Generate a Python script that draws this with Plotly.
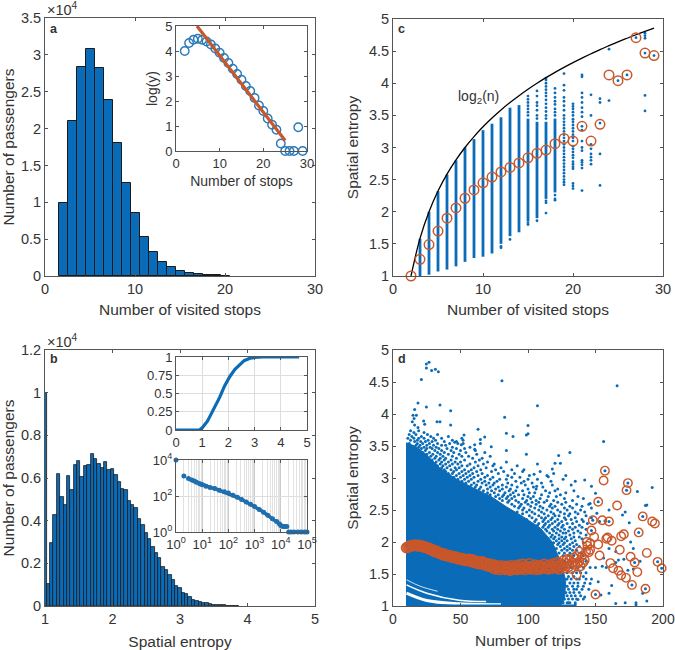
import plotly.graph_objects as go

W, H = 675, 650
BLUE = "#0a6cb8"
ORANGE = "#c9572a"
INK = "#333333"
FONT = "Liberation Sans"

# panel a
stops_heights = [0.99, 2.1, 2.84, 3.08, 2.82, 2.39, 1.8, 1.26, 0.85, 0.53, 0.33, 0.195, 0.12, 0.07,
                 0.04, 0.025, 0.012, 0.007, 0.004]
inset_a_x = list(range(2, 30))
inset_a_y = [4.0, 4.32, 4.45, 4.49, 4.45, 4.38, 4.26, 4.1, 3.93, 3.72, 3.52, 3.29, 3.08, 2.85,
             2.6, 2.4, 2.12, 1.82, 1.6, 1.3, 1.05, 0.85, 0.3, 0, 0, 0, 0.95, 0]
fit_x = [4.8, 25]
fit_y = [5, 0.42]

# panel b
entropy_heights = [1.0, 0.103, 0.294, 0.428, 0.62, 0.51, 0.473, 0.61, 0.544, 0.66, 0.68, 0.605,
                   0.656, 0.66, 0.713, 0.688, 0.666, 0.645, 0.677, 0.638, 0.64, 0.614, 0.583,
                   0.548, 0.544, 0.492, 0.473, 0.459, 0.408, 0.38, 0.34, 0.314, 0.277, 0.25,
                   0.224, 0.183, 0.168, 0.145, 0.122, 0.094, 0.085, 0.06, 0.058, 0.042, 0.03,
                   0.025, 0.019, 0.015, 0.012, 0.009, 0.007, 0.005, 0.004, 0.003, 0.002, 0.0015,
                   0.001, 0.0008]
cdf_x = [0, 0.9, 1.0, 1.1, 1.2, 1.3, 1.4, 1.5, 1.67, 1.85, 2.05, 2.25, 2.43, 2.6, 2.8, 3.0, 3.3, 3.7, 4.7]
cdf_y = [0, 0, 0.03, 0.07, 0.12, 0.19, 0.26, 0.33, 0.45, 0.6, 0.73, 0.83, 0.9, 0.95, 0.98, 0.995, 1, 1, 1]
# None marks the gaps in the rank curve
rank_x = [1, None, 2, None, 3, 4, 5, 6, 8, 10, 14, 20, 30, 45, 70, 100, 150, 220, 320, 480, 700, 1000, 1500, 2200,
          3200, 4800, 7000, 9000, 10000, 12000, 14000, 17000, None, 20000, 25000, 32000, 45000, 60000, 80000, 100000]
rank_y = [10000, None, 1300, None, 930, 780, 680, 580, 480, 420, 350, 300, 260, 210, 170, 145, 110, 85, 64, 47, 35,
          26, 18, 12.5, 8.5, 5.5, 3.8, 2.8, 2.3, 2, 2, 2, None, 1, 1, 1, 1, 1, 1, 1]

# panel c
n_values = list(range(2, 30))
log2_curve = [1, 1.585, 2, 2.322, 2.585, 2.807, 3, 3.17, 3.322, 3.459, 3.585, 3.7, 3.807, 3.907, 4,
              4.087, 4.17, 4.248, 4.322, 4.392, 4.459, 4.524, 4.585, 4.644, 4.7, 4.755, 4.807, 4.858]
mean_entropy = [1, 1.26, 1.49, 1.7, 1.9, 2.06, 2.21, 2.34, 2.45, 2.54, 2.62, 2.69, 2.76, 2.84, 2.91,
                2.96, 3.06, 3.14, 3.1, 3.33, 3.1, 3.36, 4.13, 4.04, 4.13, 4.71, 4.47, 4.43]
column_n = [3, 4, 5, 6, 7, 8, 9, 10, 11, 12, 13, 14, 15, 16, 17, 18]
column_low = [1.0, 1.02, 1.07, 1.1, 1.15, 1.22, 1.28, 1.3, 1.35, 1.5, 1.62, 1.68, 1.85, 1.9, 2.2, 2.3]
column_high = [1.58, 2.0, 2.32, 2.58, 2.8, 3.0, 3.13, 3.27, 3.37, 3.47, 3.62, 3.66, 3.45, 3.4, 3.4, 3.45]
sparse_c = {
    12: [1.44, 1.46],
    13: [1.57],
    15: [1.8, 1.83, 3.5, 3.55, 3.6, 3.65, 3.7, 3.75, 3.8],
    16: [1.86, 3.45, 3.5, 3.58, 3.65, 3.7, 3.8, 3.88],
    17: [1.98, 2.14, 2.17, 3.45, 3.5, 3.56, 3.62, 3.68, 3.74, 3.8, 3.85, 3.9, 3.95, 4.0, 4.05, 4.08],
    18: [2.18, 2.2, 2.26, 3.5, 3.55, 3.6, 3.67, 3.72, 3.78, 3.85, 3.92],
    19: [2.42, 2.46, 2.5, 2.55, 2.6, 2.65, 2.7, 2.75, 2.8, 2.85, 2.9, 2.95, 3.0, 3.05, 3.1, 3.15, 3.2, 3.25,
         3.3, 3.35, 3.4, 3.45, 3.5, 3.58, 3.65, 3.72, 3.78, 3.89, 3.97, 4.15],
    20: [2.36, 2.4, 2.44, 2.67, 2.7, 2.74, 2.78, 2.84, 2.88, 2.93, 2.98, 3.02, 3.1, 3.15, 3.2, 3.25, 3.3, 3.35,
         3.4, 3.44, 3.5, 3.55, 3.6, 3.64, 3.68],
    21: [2.33, 2.68, 2.73, 2.77, 2.8, 2.95, 3.0, 3.1, 3.27, 3.33, 3.48, 3.55, 3.62, 3.7, 3.78, 3.85, 4.1, 4.13],
    22: [2.74, 2.8, 2.85, 2.9, 2.98, 3.05, 3.5, 3.82],
    23: [2.41, 2.9, 3.38, 3.7, 3.76],
    24: [3.73, 4.53],
    25: [4.04],
    26: [4.13],
    27: [4.71],
    28: [3.57, 3.81, 4.47, 4.7, 4.74, 4.78],
    29: [4.43],
}

# panel d: solid part of the cloud, its white gaps, then the points that stand apart
cloud_x = [10, 10, 16, 24, 35, 47, 59, 72, 84, 96, 109, 118, 124, 128, 127, 124, 10]
cloud_y = [1.0, 3.55, 3.5, 3.38, 3.15, 2.98, 2.85, 2.72, 2.55, 2.4, 2.22, 2.0, 1.7, 1.4, 1.1, 1.0, 1.0]
gap_1_x = [10, 20, 33]
gap_1_y = [1.41, 1.31, 1.23]
gap_2_x = [10, 25, 49, 69]
gap_2_y = [1.33, 1.2, 1.09, 1.07]
gap_3_x = [10, 25, 49, 80]
gap_3_y = [1.2, 1.085, 1.035, 1.02]
d_dots = [
    (24.7, 4.78), (26.7, 4.81), (24.7, 4.72), (28.6, 4.68), (31.4, 4.7), (33.6, 4.66), (21, 4.54), (80.7, 4.52),
    (166, 4.44), (18.5, 4.17), (24.7, 4.11), (34.8, 4.14), (42.7, 4.05), (16, 4.07), (14.8, 3.98), (17.3, 3.98),
    (15.6, 3.93), (14.3, 3.88), (82.7, 3.95), (22.7, 3.89), (23.5, 3.84), (32.6, 3.88), (34.8, 3.88), (42.7, 3.83),
    (16, 3.83), (18.5, 3.79), (100, 3.82), (107, 4.13), (63, 3.76), (84, 3.7), (88.9, 3.65), (100, 3.69),
    (98.8, 3.67), (84, 3.43), (98.8, 3.37), (72.8, 3.49), (67.9, 3.64), (64.7, 3.6), (64.7, 3.54), (52.6, 3.67),
    (51.9, 3.59), (50.6, 3.52), (45.7, 3.56), (48, 3.54), (60.5, 3.52), (60.5, 3.45), (156, 3.57), (131, 3.4),
    (122.7, 3.35), (120, 3.23), (124, 3.23), (107, 3.22), (118, 3.14), (119, 3.07), (104.5, 3.06), (115, 3.02),
    (128, 3.04), (135, 2.95), (142, 2.97), (106.4, 2.87), (181, 2.79), (147, 2.87), (150, 2.76), (188, 2.58),
    (192, 2.85), (187, 2.57), (172, 2.47), (146, 2.6), (151, 2.45), (153, 2.32), (157, 2.33), (160, 2.5),
    (170, 2.42), (175, 2.3), (176, 2.0), (178, 1.9), (171, 1.73), (167, 1.72), (165, 1.68), (158, 1.6), (156, 1.75),
    (150, 1.6), (152, 1.38), (146, 1.35), (162, 1.32), (185, 1.2), (130, 1.05), (135, 1.02), (137, 1.1), (142, 1.14),
    (165, 1.04), (172, 1.05), (180, 1.05), (180, 1.02), (188, 1.08), (160, 1.2), (154, 1.17), (155, 1.62),
    (160, 1.9), (165, 1.85), (178, 1.58), (183, 1.7), (174, 1.56),
    # single passengers inside the orange rings
    (157, 3.115), (174, 2.92), (173, 2.81), (152, 2.63), (185, 2.4), (148, 2.34), (160, 2.32), (182, 2.15),
    (147, 2.18), (179, 1.68), (196, 1.69), (199, 1.59), (177, 1.33), (187, 1.27), (150, 1.18),
]
# fringe of the cloud, read row by row: entropy level, then trip counts
d_rows = [
    (3.74, [13, 19]), (3.71, [15.5, 23]),
    (3.68, [12, 17, 25.5, 33]), (3.65, [14, 21, 28, 41]),
    (3.62, [11, 15.5, 19, 23, 30, 36, 51]), (3.59, [13, 18, 26, 31.5, 44]),
    (3.57, [16, 20.5, 24, 29, 38, 47]), (3.54, [12, 18, 22, 27, 33, 42, 52]),
    (3.51, [17, 20, 25, 30, 36, 39]), (3.48, [19, 23, 27.5, 32, 44, 57]),
    (3.46, [21, 25, 29, 34, 40, 47, 53]), (3.43, [18.5, 24, 31, 36, 43, 50, 61]),
    (3.4, [22, 27, 33, 38, 45, 54, 68]), (3.37, [25, 29.5, 35, 41, 49, 62]),
    (3.34, [24, 28, 32, 37, 44, 51, 56, 72]), (3.31, [26, 31, 35, 39, 47, 59, 66]),
    (3.28, [29, 34, 38, 43, 53, 64]), (3.25, [27, 32, 36, 41, 46, 50, 61, 70, 84]),
    (3.22, [31, 35, 39, 44, 48, 57, 67, 75]), (3.19, [33, 37, 42, 51, 55, 63, 74, 92]),
    (3.16, [36, 40, 46, 49, 60, 69, 80]), (3.13, [35, 38, 43, 47, 53, 58, 65, 76, 88, 97]),
    (3.1, [39, 45, 51, 56, 62, 73, 82, 96, 109]), (3.07, [41, 44, 49, 54, 59, 66, 78, 90]),
    (3.04, [42, 47, 52, 57, 63, 70, 85, 101, 114]), (3.01, [45, 50, 55, 60, 68, 74, 88, 94]),
    (2.98, [48, 53, 58, 65, 72, 79, 84, 100, 107, 126]), (2.95, [51, 56, 63, 68, 77, 91, 97, 117]),
    (2.92, [54, 60, 66, 71, 75, 85, 95, 103, 110]), (2.89, [58, 62, 69, 74, 81, 88, 98, 118, 132]),
    (2.86, [61, 65, 72, 78, 84, 92, 104, 111]), (2.83, [64, 70, 76, 81, 87, 100, 106, 122]),
    (2.8, [67, 73, 79, 86, 91, 96, 113, 120, 134]), (2.77, [70, 75, 83, 89, 101, 105, 116, 128]),
    (2.74, [72, 78, 82, 87, 93, 97, 110, 124]), (2.71, [76, 81, 85, 90, 100, 104, 115, 121, 137]),
    (2.68, [79, 84, 88, 96, 102, 109, 127, 141]), (2.65, [81, 86, 91, 99, 106, 114, 119, 133]),
    (2.62, [85, 93, 98, 103, 108, 112, 122, 128]), (2.59, [88, 95, 100, 106, 117, 125, 136, 145]),
    (2.56, [90, 94, 102, 109, 116, 120, 131, 140]), (2.53, [93, 97, 105, 111, 118, 127, 133, 147]),
    (2.5, [96, 101, 108, 114, 122, 129, 139]), (2.47, [92, 99, 103, 110, 117, 124, 135, 142]),
    (2.44, [96, 105, 112, 119, 127, 131, 137]), (2.41, [101, 108, 115, 120, 123, 130, 143]),
    (2.38, [103, 110, 113, 118, 127, 135, 147]), (2.35, [99, 106, 112, 117, 122, 128, 132, 140]),
    (2.32, [105, 111, 115, 120, 125, 136, 141]), (2.29, [108, 113, 118, 123, 129, 133, 144]),
    (2.26, [107, 112, 116, 122, 126, 138]), (2.23, [111, 115, 120, 125, 131, 135, 140]),
    (2.2, [113, 118, 122, 127, 133, 143]), (2.17, [114, 119, 124, 130, 137]),
    (2.14, [116, 121, 126, 128, 134, 139]), (2.11, [118, 123, 131, 143]),
    (2.08, [117, 120, 125, 128, 134, 138]), (2.05, [119, 123, 127, 132, 140]),
    (2.02, [121, 125, 129, 135]), (1.99, [119, 123, 127, 133, 141]),
    (1.96, [122, 126, 131, 136]), (1.93, [124, 129, 134, 138]),
    (1.9, [121, 127, 131, 142]), (1.87, [125, 129, 133, 136]),
    (1.83, [123, 127, 131, 139]), (1.79, [126, 130, 134, 141]),
    (1.7, [127, 131, 135, 138, 143]), (1.6, [128, 132, 137, 141, 146]),
    (1.52, [129, 133, 136, 139, 143]), (1.46, [130, 134, 141]),
    (1.42, [129, 132, 136, 138, 143, 147]), (1.36, [131, 134, 137, 142]),
    (1.31, [129, 133, 137, 141]), (1.26, [130, 134, 136, 140, 145]),
    (1.21, [128, 131, 134, 138]), (1.16, [129, 132, 135, 139]),
    (1.11, [127, 130, 133, 136, 141]), (1.05, [126, 129, 131, 135]),
]
mean_trips_x = list(range(10, 131))
mean_trips_y = [1.91, 1.92, 1.93, 1.94, 1.94, 1.95, 1.95, 1.95, 1.94, 1.95, 1.94, 1.94, 1.93, 1.92, 1.92,
                1.91, 1.90, 1.90, 1.88, 1.88, 1.87, 1.85, 1.86, 1.84, 1.83, 1.82, 1.82, 1.80, 1.81, 1.79,
                1.79, 1.78, 1.79, 1.77, 1.76, 1.76, 1.77, 1.75, 1.74, 1.75, 1.73, 1.74, 1.72, 1.73, 1.71,
                1.72, 1.73, 1.70, 1.70, 1.72, 1.68, 1.70, 1.67, 1.69, 1.66, 1.68, 1.69, 1.65, 1.67, 1.64,
                1.66, 1.62, 1.65, 1.63, 1.60, 1.64, 1.58, 1.62, 1.60, 1.57, 1.63, 1.59, 1.61, 1.57, 1.62,
                1.58, 1.60, 1.56, 1.63, 1.59, 1.58, 1.62, 1.57, 1.64, 1.60, 1.58, 1.65, 1.60, 1.57, 1.62,
                1.60, 1.66, 1.58, 1.61, 1.59, 1.64, 1.57, 1.60, 1.63, 1.58, 1.62, 1.60, 1.65, 1.59, 1.62,
                1.58, 1.64, 1.61, 1.59, 1.66, 1.62, 1.60, 1.68, 1.58, 1.64, 1.62, 1.70, 1.60, 1.66, 1.72, 1.62]
mean_tail_x = [131, 132, 133, 134, 135, 136, 136, 137, 138, 138, 139, 140, 141, 142, 143, 143.5, 144, 145, 146, 146,
               147, 148, 149, 150, 152, 152, 153, 155, 156, 157, 158, 159, 160, 161, 162, 163, 166, 167, 168, 169,
               169, 171, 172.6, 173, 174, 176, 177, 179, 181, 182, 185, 187, 188, 192, 194, 196, 199]
mean_tail_y = [1.72, 1.58, 1.68, 1.76, 1.64, 1.49, 1.78, 1.66, 1.85, 1.7, 1.62, 1.78, 1.68, 1.72, 1.85, 2.0, 1.94,
               1.84, 1.88, 1.98, 2.18, 2.34, 2.08, 1.18, 1.96, 2.63, 1.79, 2.34, 2.96, 3.115, 2.05, 2.07, 2.32, 1.67,
               2.02, 1.59, 2.57, 1.55, 1.88, 2.09, 1.48, 2.12, 1.44, 2.81, 2.92, 1.77, 1.33, 1.68, 1.53, 2.15,
               2.4, 1.27, 1.83, 2.32, 2.29, 1.69, 1.59]

fig = go.Figure()


def box(left, top, right, bottom):
    return [left / W, right / W], [1 - bottom / H, 1 - top / H]


def style(domain, anchor, size=14.5, **kw):
    ax = dict(domain=domain, anchor=anchor, showline=True, mirror="ticks", linecolor="#555555", linewidth=1,
              ticks="inside", ticklen=3, tickwidth=1, tickcolor="#555555", showgrid=False, zeroline=False,
              tickfont=dict(family=FONT, size=size, color=INK), automargin=False)
    ax.update(kw)
    return ax


def title(text, standoff, size=15.5):
    return dict(text=text, standoff=standoff, font=dict(family=FONT, size=size, color=INK))


# a
fig.add_trace(go.Bar(y=stops_heights, x0=2, dx=1, width=1, marker=dict(color=BLUE, line=dict(color="#1a1a1a", width=1)),
                     xaxis="x", yaxis="y"))
fig.add_trace(go.Scatter(x=inset_a_x, y=inset_a_y, mode="markers", cliponaxis=False,
                         marker=dict(symbol="circle-open", size=8.5, color="#2a7ab8", line=dict(width=1.4)),
                         xaxis="x2", yaxis="y2"))
fig.add_trace(go.Scatter(x=fit_x, y=fit_y, mode="lines", line=dict(color=ORANGE, width=3.2), xaxis="x2", yaxis="y2"))

# b
fig.add_trace(go.Bar(y=entropy_heights, x0=1, dx=0.05, width=0.05, marker=dict(color=BLUE, line=dict(color="#1a1a1a", width=0.8)),
                     xaxis="x3", yaxis="y3"))
fig.add_trace(go.Scatter(x=cdf_x, y=cdf_y, mode="lines", cliponaxis=False, line=dict(color=BLUE, width=3.2),
                         xaxis="x4", yaxis="y4"))
fig.add_trace(go.Scatter(x=rank_x, y=rank_y, mode="lines+markers", cliponaxis=False, line=dict(color="#1f6fae", width=3.5),
                         marker=dict(color="#1f6fae", size=5), xaxis="x5", yaxis="y5"))

# c
col_x, col_y = [], []
for n, lo, hi in zip(column_n, column_low, column_high):
    col_x += [n, n, None]
    col_y += [lo, hi, None]
fig.add_trace(go.Scatter(x=col_x, y=col_y, mode="lines", line=dict(color=BLUE, width=2.8), xaxis="x6", yaxis="y6"))
fig.add_trace(go.Scatter(x=[n for n, vals in sparse_c.items() for v in vals],
                         y=[v for vals in sparse_c.values() for v in vals],
                         mode="markers", marker=dict(color=BLUE, size=2.8), xaxis="x6", yaxis="y6"))
fig.add_trace(go.Scatter(x=n_values, y=log2_curve, mode="lines", line=dict(color="black", width=1.3, shape="spline"),
                         xaxis="x6", yaxis="y6"))
fig.add_trace(go.Scatter(x=n_values, y=mean_entropy, mode="markers", cliponaxis=False,
                         marker=dict(symbol="circle-open", size=9.5, color=ORANGE, line=dict(width=1.5)),
                         xaxis="x6", yaxis="y6"))

# d
fig.add_trace(go.Scatter(x=cloud_x, y=cloud_y, mode="lines", fill="toself", fillcolor=BLUE, line=dict(color=BLUE, width=1),
                         xaxis="x7", yaxis="y7"))
for gx, gy, gw in [(gap_1_x, gap_1_y, 0.8), (gap_2_x, gap_2_y, 1.6), (gap_3_x, gap_3_y, 3)]:
    fig.add_trace(go.Scatter(x=gx, y=gy, mode="lines", line=dict(color="white", width=gw, shape="spline"),
                             xaxis="x7", yaxis="y7"))
fig.add_trace(go.Scatter(x=[10, 135], y=[1.0, 1.0], mode="lines", line=dict(color=BLUE, width=3), xaxis="x7", yaxis="y7"))
fig.add_trace(go.Scatter(x=[p[0] for p in d_dots] + [x for _, xs in d_rows for x in xs],
                         y=[p[1] for p in d_dots] + [y for y, xs in d_rows for _ in xs], mode="markers",
                         marker=dict(color=BLUE, size=3), xaxis="x7", yaxis="y7"))
fig.add_trace(go.Scatter(x=mean_trips_x, y=mean_trips_y, mode="markers", cliponaxis=False,
                         marker=dict(symbol="circle-open", size=10, color=ORANGE, line=dict(width=1.6)),
                         xaxis="x7", yaxis="y7"))
fig.add_trace(go.Scatter(x=mean_tail_x, y=mean_tail_y, mode="markers", cliponaxis=False,
                         marker=dict(symbol="circle-open", size=8.5, color=ORANGE, line=dict(width=1.4)),
                         xaxis="x7", yaxis="y7"))

dom_a = box(45, 18, 315, 276)
dom_ia = box(176, 26, 307, 151)
dom_b = box(45, 350, 315, 606)
dom_ib1 = box(176, 357, 307, 430)
dom_ib2 = box(176, 460, 307, 532)
dom_c = box(393, 19, 663, 276)
dom_d = box(393, 350, 663, 606)

decades = [1, 10, 100, 1000, 10000, 100000]
log_minor = [d * m for d in decades[:-1] for m in range(2, 10)]

fig.update_layout(
    width=W, height=H, margin=dict(l=0, r=0, t=0, b=0), paper_bgcolor="white", plot_bgcolor="white",
    showlegend=False, barmode="overlay", bargap=0,
    font=dict(family=FONT, color=INK),
    xaxis=style(dom_a[0], "y", range=[0, 30], dtick=10, title=title("Number of visited stops", 7)),
    yaxis=style(dom_a[1], "x", range=[0, 3.5], dtick=0.5, title=title("Number of passengers", 9)),
    xaxis2=style(dom_ia[0], "y2", size=13, range=[0, 30], dtick=10, title=title("Number of stops", 6, 14)),
    yaxis2=style(dom_ia[1], "x2", size=13, range=[0, 5], dtick=1, title=title("log(y)", 4, 14)),
    xaxis3=style(dom_b[0], "y3", range=[1, 5], dtick=1, title=title("Spatial entropy", 9)),
    yaxis3=style(dom_b[1], "x3", range=[0, 1.2], dtick=0.2, title=title("Number of passengers", 9)),
    xaxis4=style(dom_ib1[0], "y4", size=13, range=[0, 5], dtick=1, showgrid=True, gridcolor="#dddddd"),
    yaxis4=style(dom_ib1[1], "x4", size=13, range=[0, 1], dtick=0.25, showgrid=True, gridcolor="#dddddd"),
    xaxis5=style(dom_ib2[0], "y5", size=13, type="log", range=[0, 5], tickvals=decades,
                 ticktext=[f"10<sup>{i}</sup>" for i in range(6)], showgrid=True, gridcolor="#cccccc",
                 minor=dict(tickvals=log_minor, showgrid=True, gridcolor="#e2e2e2", ticks="")),
    yaxis5=style(dom_ib2[1], "x5", size=13, type="log", range=[0, 4], tickvals=[1, 100, 10000],
                 ticktext=["10<sup>0</sup>", "10<sup>2</sup>", "10<sup>4</sup>"], showgrid=True, gridcolor="#dddddd"),
    xaxis6=style(dom_c[0], "y6", range=[0, 30], dtick=10, title=title("Number of visited stops", 7)),
    yaxis6=style(dom_c[1], "x6", range=[1, 5], dtick=0.5, title=title("Spatial entropy", 6)),
    xaxis7=style(dom_d[0], "y7", size=14, range=[0, 200], dtick=50, title=title("Number of trips", 9)),
    yaxis7=style(dom_d[1], "x7", range=[1, 5], dtick=0.5, title=title("Spatial entropy", 6)),
)


def note(text, px, py, size=14.5, **kw):
    fig.add_annotation(text=text, x=px / W, y=1 - py / H, xref="paper", yref="paper", showarrow=False,
                       xanchor="left", yanchor="middle", font=dict(family=FONT, size=size, color=INK), **kw)


note("×10<sup>4</sup>", 45, 9)
note("×10<sup>4</sup>", 45, 341)
note("<b>a</b>", 48, 29, 12.5)
note("<b>b</b>", 48, 359, 12.5)
note("<b>c</b>", 396, 29, 12.5)
note("<b>d</b>", 396, 359, 12.5)
note("log<sub>2</sub>(n)", 456, 97, 14)

fig.write_html("out.html", config=dict(displayModeBar=False), post_script="document.body.style.margin='0';")
